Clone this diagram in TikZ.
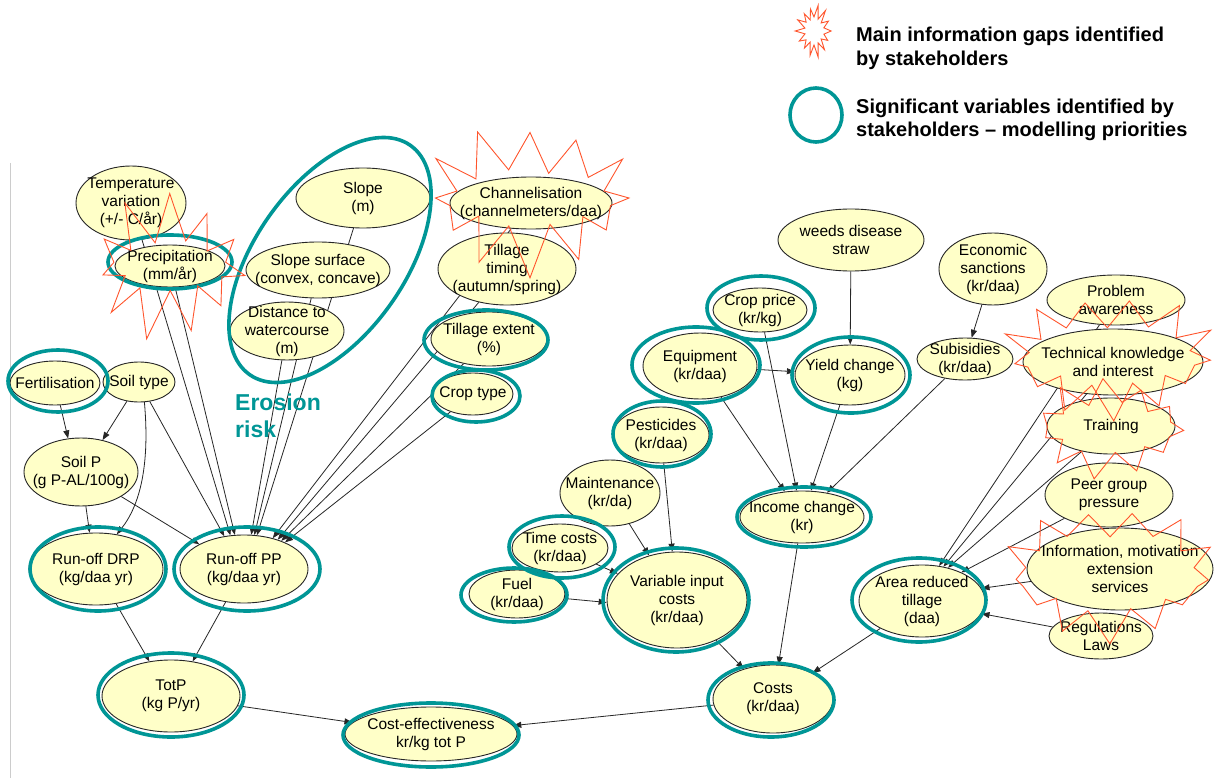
\documentclass[tikz,border=0pt]{standalone}
\usepackage{fontspec}
\setmainfont{Liberation Sans}
\usetikzlibrary{shapes.geometric,arrows.meta}
\definecolor{nodefill}{RGB}{255,255,200}
\definecolor{ringteal}{RGB}{0,150,150}
\definecolor{burstred}{RGB}{255,85,45}
\pgfdeclarelayer{bg}\pgfdeclarelayer{fg}\pgfsetlayers{bg,main,fg}
\tikzset{
  vn/.style={ellipse, draw=black!85, line width=0.9pt, fill=nodefill, inner sep=0pt},
  vt/.style={font=\fontsize{15.5}{18}\selectfont, align=center, inner sep=0pt, text=black},
  ringst/.style={draw=ringteal, line width=3.6pt},
  burstst/.style={draw=burstred, line width=0.9pt, line join=miter},
  arr/.style={draw=black!85, line width=0.8pt, -{Triangle[length=8pt,width=6pt]}},
  legt/.style={font=\fontsize{20}{24}\selectfont\bfseries, anchor=base west, inner sep=0pt},
  erot/.style={font=\fontsize{23}{27}\selectfont\bfseries, text=ringteal, anchor=base west, inner sep=0pt},
}
\newcommand\vnode[6]{%
  \node[vn, minimum width=#4pt, minimum height=#5pt] (#1) at (#2,#3) {};
  \node[vt] (#1t) at (#2,#3) {#6};}
\newcommand\tealring[4]{\draw[ringst] (#1,#2) ellipse [x radius=#3, y radius=#4];}
% #1,#2 centre; #3,#4 inner radii; #5,#6 outer radii; #7 last index (2n-1); #8 phase
\newcommand\gapburst[8]{%
  \draw[burstst] plot[samples at={0,...,#7}, variable=\k]
   ({#1+(mod(\k,2)==0 ? #5*(0.9+0.1*sin(\k*137)) : #3*(0.95+0.07*sin(\k*71)))*cos(#8+\k*360/(#7+1))},
    {#2+(mod(\k,2)==0 ? #6*(0.9+0.1*sin(\k*137)) : #4*(0.95+0.07*sin(\k*71)))*sin(#8+\k*360/(#7+1))}) -- cycle;}
\begin{document}
\begin{tikzpicture}[x=1pt,y=-1pt]
\useasboundingbox (0,0) rectangle (1216,778);
\begin{pgfonlayer}{bg}
\fill[white] (0,0) rectangle (1216,778);
\draw[black!20, line width=0.8pt] (10,163) -- (10,778);
\end{pgfonlayer}

% ---------- nodes ----------
\vnode{temp}{131}{203}{110}{74}{Temperature\\variation\\(+/- C/år)}
\vnode{precip}{170}{266}{110}{42}{Precipitation\\(mm/år)}
\vnode{slope}{363}{198}{134}{60}{Slope\\(m)}
\vnode{slopes}{318}{270}{144}{56}{Slope surface\\(convex, concave)}
\vnode{dist}{287}{331}{114}{58}{Distance to\\watercourse\\(m)}
\vnode{chan}{531}{203}{162}{52}{Channelisation\\(channelmeters/daa)}
\vnode{ttiming}{507}{269}{138}{72}{Tillage\\timing\\(autumn/spring)}
\vnode{textent}{489}{339}{116}{54}{Tillage extent\\(\%)}
\vnode{crop}{473}{394}{80}{42}{Crop type}
\vnode{weeds}{851}{240}{146}{62}{weeds disease\\straw}
\vnode{econ}{993}{269}{108}{72}{Economic\\sanctions\\(kr/daa)}
\vnode{prob}{1116}{300}{138}{50}{Problem\\awareness}
\vnode{tech}{1113}{362}{180}{66}{Technical knowledge\\and interest}
\vnode{train}{1111}{426}{128}{56}{Training}
\vnode{peer}{1109}{495}{128}{64}{Peer group\\pressure}
\vnode{info}{1120}{569}{186}{82}{Information, motivation\\extension\\services}
\vnode{reg}{1101}{636}{104}{46}{Regulations\\Laws}
\vnode{area}{922}{601}{126}{72}{Area reduced\\tillage\\(daa)}
\vnode{subs}{965}{359}{96}{42}{Subisidies\\(kr/daa)}
\vnode{yield}{850}{375}{110}{60}{Yield change\\(kg)}
\vnode{cprice}{760}{310}{94}{44}{Crop price\\(kr/kg)}
\vnode{equip}{700}{366}{114}{66}{Equipment\\(kr/daa)}
\vnode{pest}{661}{435}{96}{56}{Pesticides\\(kr/daa)}
\vnode{maint}{610}{493}{100}{66}{Maintenance\\(kr/da)}
\vnode{timec}{560}{548}{96}{48}{Time costs\\(kr/daa)}
\vnode{fuel}{517}{594}{96}{48}{Fuel\\(kr/daa)}
\vnode{vic}{677}{600}{140}{96}{Variable input\\costs\\(kr/daa)}
\vnode{income}{802}{517}{124}{52}{Income change\\(kr)}
\vnode{costs}{773}{699}{120}{68}{Costs\\(kr/daa)}
\vnode{costeff}{431}{734}{172}{54}{Cost-effectiveness\\kr/kg tot P}
\vnode{totp}{171}{696}{138}{72}{TotP\\(kg P/yr)}
\vnode{drp}{96}{569}{134}{72}{Run-off DRP\\(kg/daa yr)}
\vnode{runpp}{244}{569}{128}{68}{Run-off PP\\(kg/daa yr)}
\vnode{soilp}{81}{472}{114}{68}{Soil P\\(g P-AL/100g)}
\vnode{fert}{55}{383}{90}{44}{Fertilisation}
\vnode{soilt}{139}{382}{72}{40}{Soil type}

\node[erot] (ero1) at (235,410) {Erosion};
\node[erot] (ero2) at (235,437) {risk};

% ---------- connectors ----------
\begin{pgfonlayer}{bg}
\draw[arr] (fert) -- (soilp.111);
\draw[arr] (soilt) -- (soilp.56);
\draw[arr] (soilt.285) .. controls (150,465) and (140,505) .. (drp.59);
\draw[arr] (soilt) -- (runpp.121);
\draw[arr] (soilp) -- (drp.100);
\draw[arr] (soilp) -- (runpp.151);
\draw[arr] (temp) -- (runpp.112);
\draw[arr] (precip) -- (runpp.105);
\draw[arr] (slope) -- (runpp.69);
\draw[arr] (slopes) -- (runpp.73);
\draw[arr] (dist) -- (runpp.78);
\draw[arr] (chan) -- (runpp.47);
\draw[arr] (ttiming) -- (runpp.41);
\draw[arr] (textent) -- (runpp.37);
\draw[arr] (crop) -- (runpp.33);
\draw[arr] (drp) -- (totp.122);
\draw[arr] (runpp) -- (totp.58);
\draw[arr] (totp) -- (costeff);
\draw[arr] (costs) -- (costeff);
\draw[arr] (vic) -- (costs);
\draw[arr] (income) -- (costs);
\draw[arr] (area) -- (costs);
\draw[arr] (fuel) -- (vic.182);
\draw[arr] (timec) -- (vic);
\draw[arr] (maint) -- (vic);
\draw[arr] (pest) -- (vic);
\draw[arr] (equip) -- (income);
\draw[arr] (cprice) -- (income);
\draw[arr] (yield) -- (income);
\draw[arr] (subs) -- (income);
\draw[arr] (equip) -- (yield);
\draw[arr] (weeds) -- (yield);
\draw[arr] (econ) -- (subs);
\draw[arr] (prob) -- (area.64);
\draw[arr] (tech) -- (area.58);
\draw[arr] (train) -- (area.52);
\draw[arr] (peer) -- (area.36);
\draw[arr] (info) -- (area.12);
\draw[arr] (reg) -- (area.348);
\end{pgfonlayer}

% ---------- rings and bursts ----------
\begin{pgfonlayer}{fg}
\tealring{170}{262}{62}{27}
\tealring{486}{340}{62}{30}
\tealring{476}{396}{44}{26}
\tealring{851}{375}{59}{38}
\tealring{761}{308}{54}{32}
\tealring{696}{365}{64}{38}
\tealring{662}{434}{49}{33}
\tealring{562}{547}{53}{31}
\tealring{514}{595}{53}{27}
\tealring{676}{600}{73}{52}
\tealring{804}{517}{67}{30}
\tealring{771}{700}{63}{37}
\tealring{431}{735}{88}{32}
\tealring{171}{695}{73}{42}
\tealring{98}{569}{68}{42}
\tealring{247}{569}{73}{42}
\tealring{58}{381}{50}{31}
\tealring{919}{600}{67}{42}
\draw[ringst, rotate around={55:(330,260)}] (330,260) ellipse [x radius=140, y radius=75];
\gapburst{170}{266}{56}{26}{84}{76}{21}{8}
\gapburst{530}{198}{82}{29}{110}{80}{23}{0}
\gapburst{1110}{355}{88}{31}{112}{66}{25}{5}
\gapburst{1110}{428}{62}{26}{82}{52}{21}{3}
\gapburst{1110}{572}{92}{40}{110}{72}{25}{7}
% legend
\gapburst{814}{31}{10}{14}{19}{27}{27}{0}
\tealring{816}{115}{26}{27}
\end{pgfonlayer}
\node[legt] (leg1a) at (856,42) {Main information gaps identified};
\node[legt] (leg1b) at (856,66) {by stakeholders};
\node[legt] (leg2a) at (856,114) {Significant variables identified by};
\node[legt] (leg2b) at (856,137) {stakeholders – modelling priorities};
\end{tikzpicture}
\end{document}
